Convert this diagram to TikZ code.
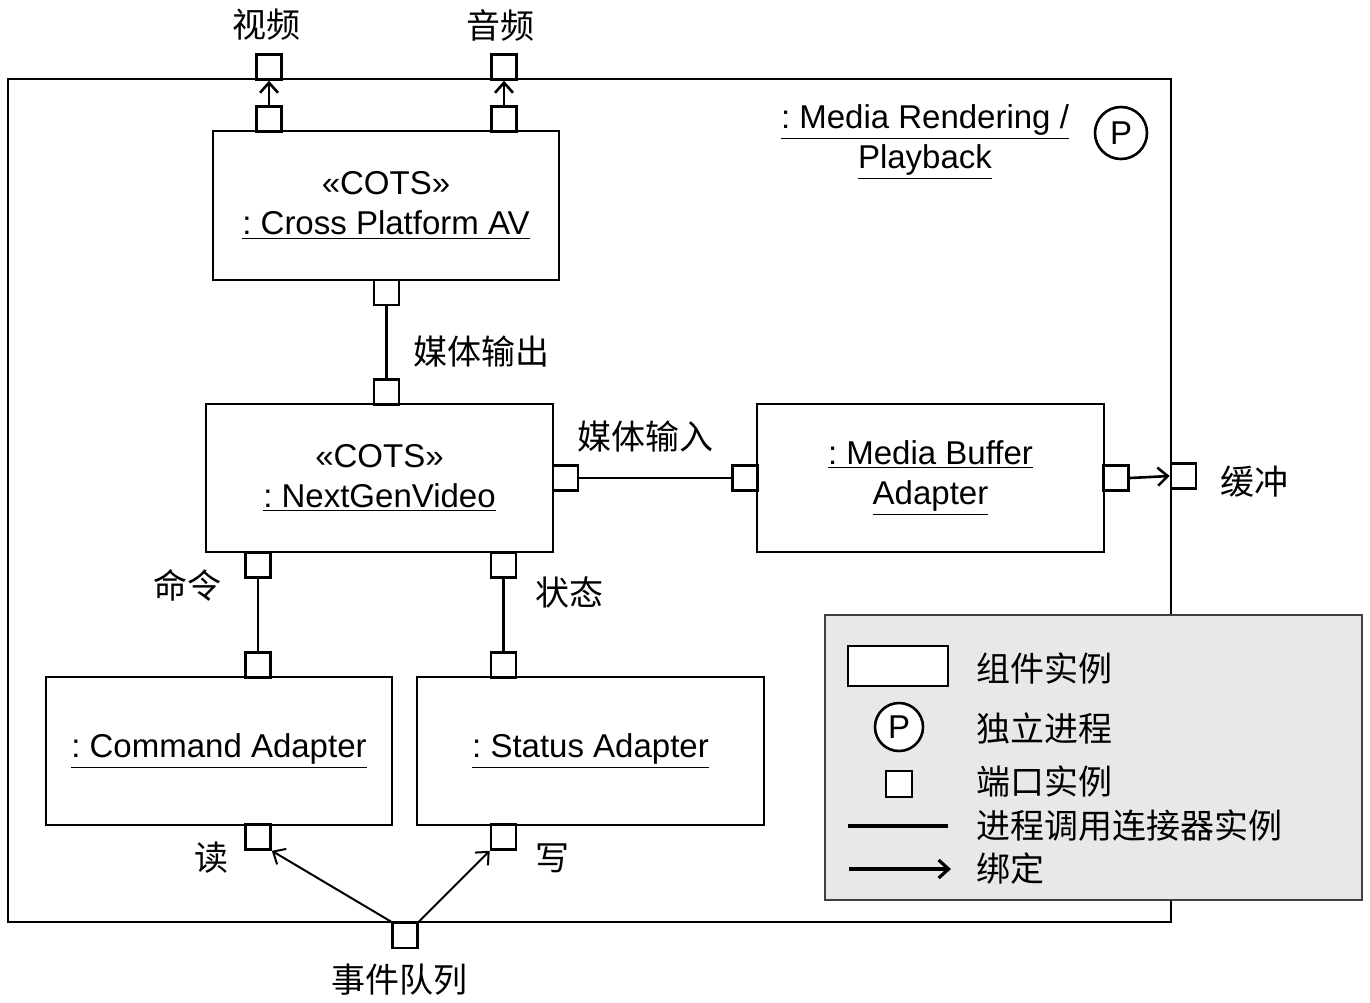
\documentclass[tikz,border=0pt]{standalone}
\usepackage{fontspec}
\setmainfont{Liberation Sans}
\newfontfamily\cjk{Noto Sans CJK SC}
\usetikzlibrary{arrows.meta}
\definecolor{legendgray}{RGB}{232,232,232}
\frenchspacing
\begin{document}
\begin{tikzpicture}[x=0.5pt,y=-0.5pt, line width=1.3pt,
  comp/.style={draw, fill=white, inner sep=0pt, align=center, font=\fontsize{16.5}{20}\selectfont},
  port/.style={draw, fill=white, minimum size=12.5pt, inner sep=0pt},
  lbl/.style={font=\cjk\fontsize{17}{20}\selectfont, inner sep=0pt},
  pcirc/.style={draw, circle, fill=white, inner sep=0pt, font=\fontsize{16.5}{20}\selectfont},
  bind/.style={-{Straight Barb[length=5pt, width=9pt]}},
]
\useasboundingbox (0,0) rectangle (1370,1002);
% outer frame
\node[draw, minimum width=581.5pt, minimum height=421.5pt, inner sep=0pt] (frame) at (589.5,500.5) {};
\node[align=center, inner sep=0pt, font=\fontsize{16.5}{20}\selectfont] (title) at (925,142)
  {\underline{: Media Rendering /}\\\underline{Playback}};
\node[pcirc, minimum size=26pt] (pmain) at (1121,133) {P};
% components
\node[comp, minimum width=173pt, minimum height=74.5pt] (cpav) at (386,205.5)
  {\guillemotleft COTS\guillemotright\\\underline{: Cross Platform AV}};
\node[comp, minimum width=173.5pt, minimum height=74pt] (ngv) at (379.5,478)
  {\guillemotleft COTS\guillemotright\\\underline{: NextGenVideo}};
\node[comp, minimum width=173.5pt, minimum height=74pt] (mba) at (930.5,478)
  {\underline{: Media Buffer}\\\underline{Adapter}};
\node[comp, minimum width=173pt, minimum height=74pt] (cmd) at (219,751)
  {\underline{: Command Adapter}};
\node[comp, minimum width=173.5pt, minimum height=74pt] (sta) at (590.5,751)
  {\underline{: Status Adapter}};
% ports
\node[port] (vout) at (269,67) {};
\node[port] (vin) at (269,119) {};
\node[port] (aout) at (504,67) {};
\node[port] (ain) at (504,119) {};
\node[port] (cpavb) at (386.5,292.5) {};
\node[port] (ngvt) at (386.5,392) {};
\node[port] (ngvr) at (565.5,478) {};
\node[port] (mbal) at (745,478) {};
\node[port] (mbar) at (1116,478) {};
\node[port] (buf) at (1183.5,476) {};
\node[port] (ngvb1) at (258,565) {};
\node[port] (ngvb2) at (503.5,565) {};
\node[port] (cmdt) at (258,665) {};
\node[port] (stat) at (503.5,665) {};
\node[port] (cmdb) at (258,837) {};
\node[port] (stab) at (503.5,837) {};
\node[port] (evq) at (405,935.5) {};
% connectors
\draw (cpavb.south) -- (ngvt.north);
\draw (ngvr.east) -- (mbal.west);
\draw (ngvb1.south) -- (cmdt.north);
\draw (ngvb2.south) -- (stat.north);
\draw[bind] (vin.north) -- (vout.south);
\draw[bind] (ain.north) -- (aout.south);
\draw[bind] (mbar.east) -- (buf.west);
\draw[bind, line width=1pt] (evq.north west) -- (cmdb.south east);
\draw[bind, line width=1pt] (evq.north east) -- (stab.south west);
% labels
\node[lbl] (lv) at (266,25) {视频};
\node[lbl] (la) at (500,25) {音频};
\node[lbl] (lmo) at (481,352) {媒体输出};
\node[lbl] (lmi) at (645,437) {媒体输入};
\node[lbl] (lbuf) at (1254,482) {缓冲};
\node[lbl] (lcmd) at (187,585) {命令};
\node[lbl] (lsta) at (569,592) {状态};
\node[lbl] (lread) at (211,858) {读};
\node[lbl] (lwrite) at (552,858) {写};
\node[lbl] (levq) at (399,980) {事件队列};
% legend
\node[draw=black!75, fill=legendgray, line width=1pt, minimum width=268.5pt, minimum height=142.5pt, inner sep=0pt] (legend) at (1093.5,757.5) {};
\node[draw, fill=white, minimum width=50pt, minimum height=20pt, inner sep=0pt] (lgcomp) at (898,666) {};
\node[pcirc, minimum size=24pt] (lgp) at (899,727) {P};
\node[port, minimum size=13pt] (lgport) at (899,784) {};
\coordinate (lgl1) at (848,826);
\coordinate (lgl2) at (948,826);
\coordinate (lga1) at (849,869);
\coordinate (lga2) at (951,869);
\draw[line width=1.6pt] (lgl1) -- (lgl2);
\draw[bind, line width=1.6pt] (lga1) -- (lga2);
\node[lbl, anchor=west] (lt1) at (975,668) {组件实例};
\node[lbl, anchor=west] (lt2) at (975,728) {独立进程};
\node[lbl, anchor=west] (lt3) at (975,781) {端口实例};
\node[lbl, anchor=west] (lt4) at (975,826) {进程调用连接器实例};
\node[lbl, anchor=west] (lt5) at (975,868) {绑定};
\end{tikzpicture}
\end{document}
